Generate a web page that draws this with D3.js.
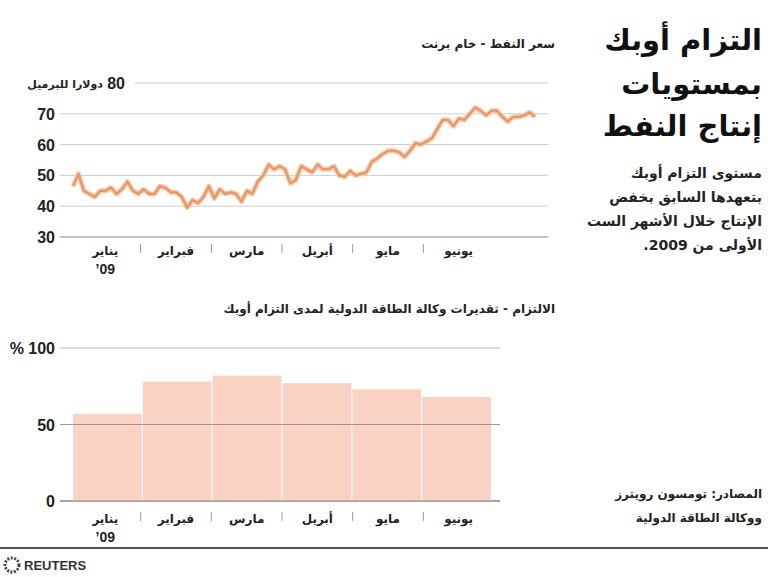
<!DOCTYPE html>
<html><head><meta charset="utf-8">
<script src="https://cdn.jsdelivr.net/npm/d3@7"></script>
<style>body{margin:0;background:#fff}</style></head><body>
<svg id="c" width="768" height="577"></svg>
<script>
const months = ["يناير","فبراير","مارس","أبريل","مايو","يونيو"];
const priceTicks = [30,40,50,60,70,80];
const brent = [46.5,50.5,45,44,43,45,45,46,44,45.5,48,45,44,45.5,44,44,46.5,46,44.5,44.5,43,39.5,42,41,43,46.5,42.5,45.5,44,44.5,44,41.5,45,44,48,50,53.5,52,53,52,47.5,48.5,53,52,51,53.5,52,52,53,50,49.5,51.5,50,50.5,51,54.5,55.5,57,58,58,57.5,56,58,60.5,60,61,62,65,68,68,66,68.5,68,70,72,71,69.5,71,71,69,67.5,69,69,69.5,70.5,69];
const compliance = [57,78,82,77,73,68];
const pctTicks = [0,50,100];

const svg = d3.select("#c");
const AR = "'DejaVu Sans', sans-serif";
const NUM = "'Liberation Sans', Arial, sans-serif";

[["التزام أوبك",50],["بمستويات",94],["إنتاج النفط",136]].forEach(([t,y])=>
  svg.append("text").attr("x",762).attr("y",y).attr("text-anchor","end").attr("font-family",AR)
   .attr("font-weight","bold").attr("font-size",29).attr("fill","#111").text(t));
["مستوى التزام أوبك","بتعهدها السابق بخفض","الإنتاج خلال الأشهر الست","الأولى من 2009.\u200F"].forEach((t,i)=>
  svg.append("text").attr("x",762).attr("y",178+i*24).attr("text-anchor","end").attr("font-family",AR)
   .attr("font-weight","bold").attr("font-size",14).attr("fill","#222").text(t));
["المصادر: تومسون رويترز","ووكالة الطاقة الدولية"].forEach((t,i)=>
  svg.append("text").attr("x",762).attr("y",498+i*24).attr("text-anchor","end").attr("font-family",AR)
   .attr("font-weight","bold").attr("font-size",12).attr("fill","#222").text(t));

svg.append("text").attr("x",555).attr("y",48).attr("text-anchor","end").attr("font-family",AR)
 .attr("font-weight","bold").attr("font-size",12).attr("fill","#222").text("سعر النفط - خام برنت");
const y1 = d3.scaleLinear().domain([30,80]).range([237,83]);
const x1 = d3.scaleLinear().domain([0,brent.length-1]).range([73,535]);
const gx0=60, gx1=548;
priceTicks.forEach(v=>{
  svg.append("line").attr("x1",v==80?135:gx0).attr("x2",gx1).attr("y1",y1(v)).attr("y2",y1(v))
   .attr("stroke",v==30?"#888":"#ccc").attr("stroke-width",1);
  if(v!=80) svg.append("text").attr("x",55).attr("y",y1(v)+6).attr("text-anchor","end").attr("font-family",NUM)
   .attr("font-weight","bold").attr("font-size",16).attr("fill","#222").text(v);
});
svg.append("text").attr("x",125).attr("y",y1(80)+6).attr("text-anchor","end").attr("font-family",NUM)
 .attr("font-weight","bold").attr("font-size",16).attr("fill","#222").text("80");
svg.append("text").attr("x",103).attr("y",y1(80)+5).attr("text-anchor","end").attr("font-family",AR)
 .attr("font-weight","bold").attr("font-size",11).attr("fill","#222").text("دولارا للبرميل");
const line = d3.line().x((d,i)=>x1(i)).y(d=>y1(d));
svg.append("path").datum(brent).attr("d",line).attr("fill","none").attr("stroke","#f4c8a4").attr("stroke-width",5).attr("stroke-linejoin","round");
svg.append("path").datum(brent).attr("d",line).attr("fill","none").attr("stroke","#e8956a").attr("stroke-width",2.2).attr("stroke-linejoin","round");
const xm1 = d3.scaleBand().domain(months).range([70,494]);
function monthAxis(yy){
  months.forEach((m,i)=>{
    svg.append("text").attr("x",xm1(m)+xm1.bandwidth()/2).attr("y",yy).attr("text-anchor","middle")
     .attr("font-family",AR).attr("font-weight","bold").attr("font-size",12).attr("fill","#222").text(m);
    if(i>0) svg.append("line").attr("x1",xm1(m)).attr("x2",xm1(m)).attr("y1",yy-11).attr("y2",yy-2).attr("stroke","#999");
  });
  svg.append("text").attr("x",xm1(months[0])+xm1.bandwidth()/2).attr("y",yy+19).attr("text-anchor","middle")
   .attr("font-family",NUM).attr("font-weight","bold").attr("font-size",14).attr("fill","#222").text("’09");
}
monthAxis(255);

svg.append("text").attr("x",555).attr("y",313).attr("text-anchor","end").attr("font-family",AR)
 .attr("font-weight","bold").attr("font-size",12).attr("fill","#222").text("الالتزام - تقديرات وكالة الطاقة الدولية لمدى التزام أوبك");
const y2 = d3.scaleLinear().domain([0,100]).range([501,348]);
const xb = d3.scaleBand().domain(months).range([73,491]).paddingInner(0.015);
pctTicks.forEach(v=>{
  svg.append("line").attr("x1",gx0).attr("x2",500).attr("y1",y2(v)).attr("y2",y2(v)).attr("stroke",v==0?"#888":"#bbb");
});
svg.selectAll("rect.b").data(compliance).enter().append("rect").attr("class","b")
 .attr("x",(d,i)=>xb(months[i])).attr("width",xb.bandwidth()).attr("y",d=>y2(d)).attr("height",d=>y2(0)-y2(d))
 .attr("fill","#fad2c4");
svg.append("line").attr("x1",gx0).attr("x2",500).attr("y1",y2(50)).attr("y2",y2(50)).attr("stroke","#999");
svg.append("line").attr("x1",gx0).attr("x2",500).attr("y1",y2(0)).attr("y2",y2(0)).attr("stroke","#888");
pctTicks.forEach(v=>{
  svg.append("text").attr("x",55).attr("y",y2(v)+6).attr("text-anchor","end").attr("font-family",NUM)
   .attr("font-weight","bold").attr("font-size",16).attr("fill","#222").text(v==100?"% 100":v);
});
monthAxis(523);

svg.append("line").attr("x1",0).attr("x2",768).attr("y1",548).attr("y2",548).attr("stroke","#555").attr("stroke-width",2);
svg.append("circle").attr("cx",12).attr("cy",565).attr("r",7).attr("fill","none").attr("stroke","#444").attr("stroke-width",3).attr("stroke-dasharray","2 1.5");
svg.append("text").attr("x",24).attr("y",570).attr("font-family",NUM).attr("font-weight","bold").attr("font-size",13).attr("fill","#333").text("REUTERS");
</script></body></html>
